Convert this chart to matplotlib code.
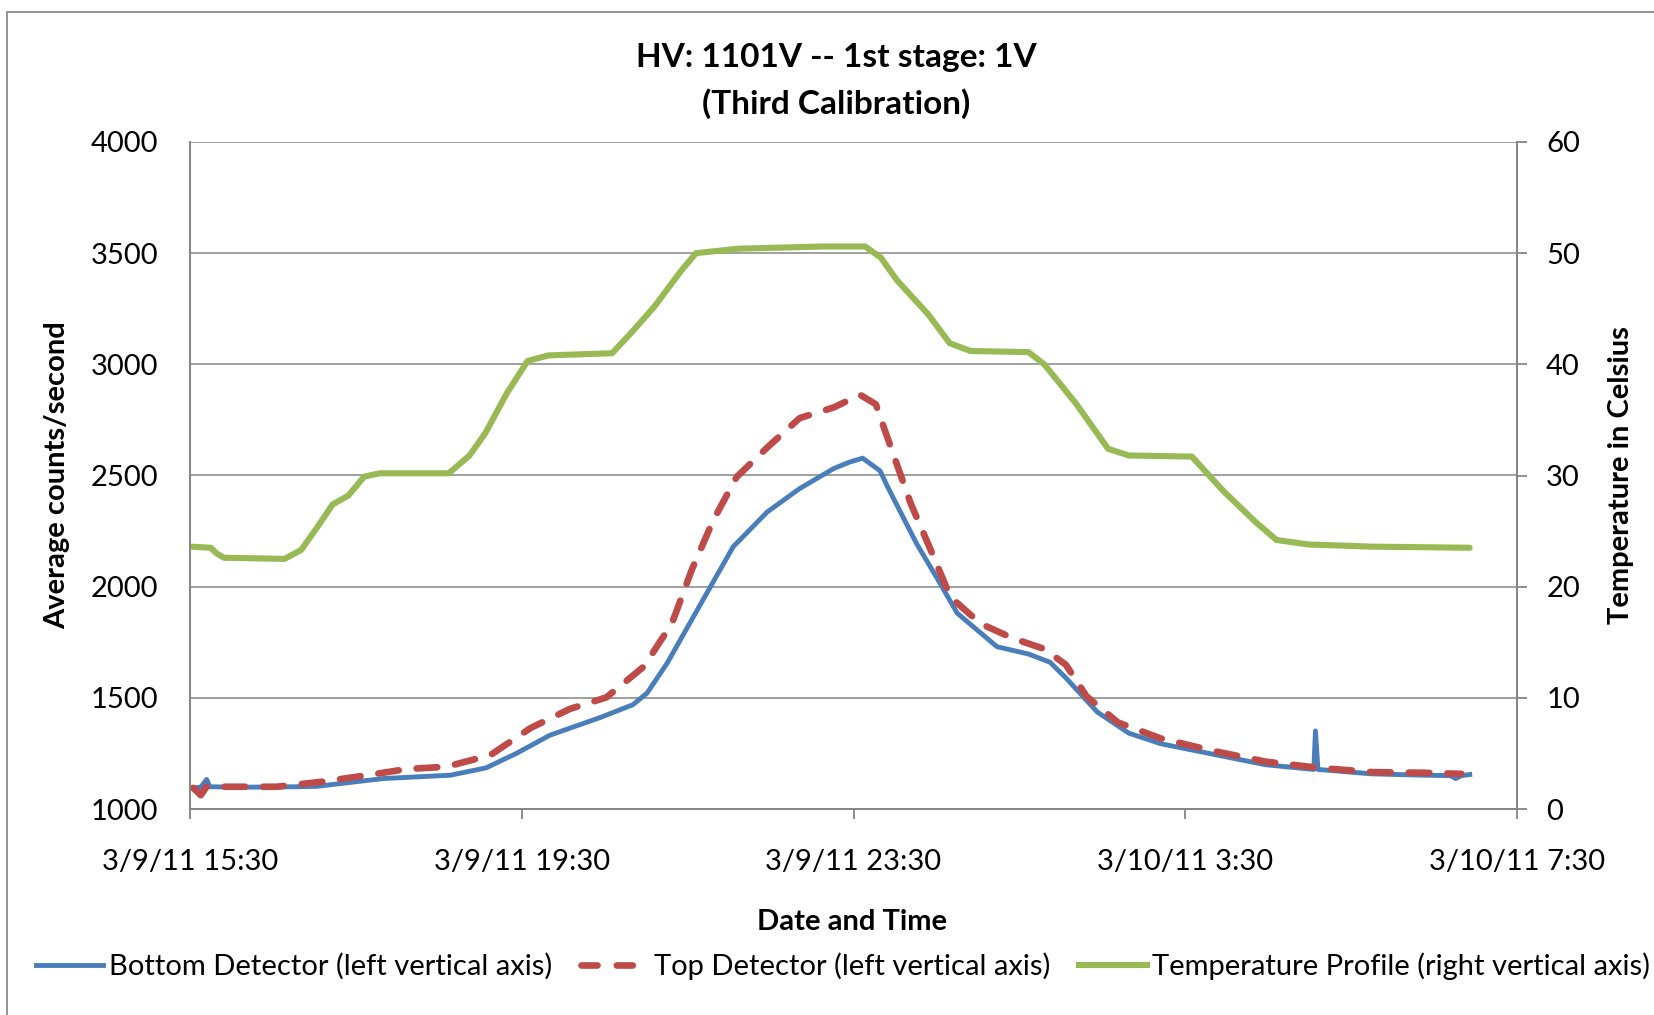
import matplotlib
matplotlib.use('Agg')
import matplotlib.pyplot as plt
from matplotlib.lines import Line2D

plt.rcParams['font.family'] = ['Lato', 'DejaVu Sans']

# hours after 3/9/11 15:30
bottom_t = [0.04, 0.13, 0.20, 0.24, 0.64, 1.27, 1.53, 2.33, 3.14, 3.57, 3.94, 4.34, 4.95, 5.34,
            5.51, 5.75, 6.16, 6.55, 6.96, 7.35, 7.76, 7.95, 8.11, 8.32, 8.41, 8.76, 9.00, 9.25,
            9.73, 10.11, 10.37, 10.56, 10.94, 11.32, 11.70, 12.34, 12.97, 13.55, 13.57, 13.60,
            14.25, 14.88, 15.20, 15.26, 15.33, 15.43]
bottom_v = [1095, 1098, 1133, 1100, 1098, 1100, 1102, 1137, 1152, 1185, 1251, 1332, 1412, 1469,
            1521, 1654, 1924, 2180, 2336, 2441, 2531, 2560, 2578, 2521, 2450, 2194, 2043, 1881,
            1730, 1697, 1660, 1590, 1436, 1341, 1294, 1246, 1199, 1178, 1351, 1178,
            1158, 1152, 1150, 1137, 1150, 1155]

top_t = [0.04, 0.13, 0.20, 0.61, 1.04, 1.60, 2.14, 2.62, 3.09, 3.62, 4.11, 4.58, 5.02, 5.47,
         5.81, 6.05, 6.31, 6.59, 6.96, 7.35, 7.76, 8.08, 8.27, 8.38, 8.69, 8.93, 9.17, 9.53,
         9.92, 10.30, 10.56, 10.81, 11.19, 11.70, 12.34, 12.97, 13.61, 14.25, 14.88, 15.33]
top_v = [1095, 1062, 1100, 1100, 1100, 1123, 1152, 1180, 1190, 1242, 1365, 1450, 1502, 1640,
         1834, 2076, 2299, 2493, 2626, 2758, 2806, 2863, 2820, 2701, 2374, 2166, 1953, 1834,
         1768, 1720, 1649, 1507, 1389, 1318, 1261, 1213, 1185, 1166, 1163, 1158]

temp_t = [0.0, 0.25, 0.32, 0.41, 1.14, 1.34, 1.53, 1.72, 1.91, 2.10, 2.29, 3.12, 3.37, 3.56,
          3.82, 4.07, 4.32, 5.09, 5.34, 5.60, 5.91, 6.10, 6.61, 7.63, 8.14, 8.33, 8.52, 8.90,
          9.16, 9.41, 10.11, 10.30, 10.68, 11.07, 11.32, 12.08, 12.46, 12.85, 13.10, 13.48,
          14.25, 15.43]
temp_v = [23.6, 23.5, 23.0, 22.6, 22.5, 23.3, 25.3, 27.4, 28.2, 29.9, 30.2, 30.2, 31.8, 33.8,
          37.4, 40.3, 40.8, 41.0, 43.0, 45.2, 48.3, 50.0, 50.4, 50.6, 50.6, 49.6, 47.6, 44.5,
          41.9, 41.2, 41.1, 40.0, 36.5, 32.4, 31.8, 31.7, 28.6, 25.8, 24.2, 23.8,
          23.6, 23.5]

tick_hours = [0, 4, 8, 12, 16]
tick_labels = ['3/9/11 15:30', '3/9/11 19:30', '3/9/11 23:30', '3/10/11 3:30', '3/10/11 7:30']

blue = '#4A7EBB'
red = '#BE4B48'
green = '#98B954'
grey = '#868686'

W, H = 1654, 1015
fig = plt.figure(figsize=(W / 100, H / 100), dpi=100)
ax = fig.add_axes([190 / W, 1 - 809 / H, (1517 - 190) / W, (809 - 142) / H])
ax2 = ax.twinx()

ax.plot(bottom_t, bottom_v, color=blue, lw=3.5, solid_joinstyle='round', zorder=3)
ax.plot(top_t, top_v, color=red, lw=4.8, dashes=(3.1, 2.7), dash_capstyle='round', zorder=4)
ax2.plot(temp_t, temp_v, color=green, lw=4.4, solid_capstyle='round', solid_joinstyle='round')

ax.set_xlim(0, 16)
ax.set_ylim(1000, 4000)
ax2.set_ylim(0, 60)
ax.set_yticks(range(1000, 4001, 500))
ax2.set_yticks(range(0, 61, 10))
ax.set_xticks(tick_hours)
ax.set_xticklabels(tick_labels)

ax.grid(axis='y', color=grey, lw=1.1)
ax.set_axisbelow(True)
for a in (ax, ax2):
    for s in a.spines.values():
        s.set_color(grey)
        s.set_linewidth(1.3)
    a.spines['top'].set_visible(False)

ax.tick_params(axis='y', length=0, pad=23, labelsize=21)
ax.tick_params(axis='x', length=7, width=1.3, color=grey, pad=22, labelsize=21)
ax2.tick_params(axis='y', length=7, width=1.3, color=grey, pad=14, labelsize=21)

fig.text(836 / W, 1 - 57 / H, 'HV: 1101V -- 1st stage: 1V', ha='center', va='center',
         fontsize=24, fontweight='bold')
fig.text(836 / W, 1 - 104 / H, '(Third Calibration)', ha='center', va='center',
         fontsize=24, fontweight='bold')
fig.text(852 / W, 1 - 922 / H, 'Date and Time', ha='center', va='center',
         fontsize=21, fontweight='bold')
fig.text(57 / W, 1 - 475 / H, 'Average counts/second', ha='center', va='center',
         rotation=90, fontsize=21, fontweight='bold')
fig.text(1621 / W, 1 - 475 / H, 'Temperature in Celsius', ha='center', va='center',
         rotation=90, fontsize=21, fontweight='bold')

handles = [Line2D([], [], color=blue, lw=3.5),
           Line2D([], [], color=red, lw=4.8, dashes=(2.4, 2.9), dash_capstyle='round'),
           Line2D([], [], color=green, lw=4.4)]
labels = ['Bottom Detector (left vertical axis)', 'Top Detector (left vertical axis)',
          'Temperature Profile (right vertical axis)']
fig.legend(handles, labels, loc='center', bbox_to_anchor=(843 / W, 1 - 966 / H), ncol=3,
           frameon=False, fontsize=21, handlelength=2.3, handletextpad=0.2, columnspacing=1.0,
           borderaxespad=0)

fig.add_artist(plt.Rectangle((7 / W, -0.1), 1.2, 1 - 12 / H + 0.1, transform=fig.transFigure,
                             fill=False, edgecolor='#8c8c8c', lw=1.3))

fig.savefig('out.png', dpi=100)
